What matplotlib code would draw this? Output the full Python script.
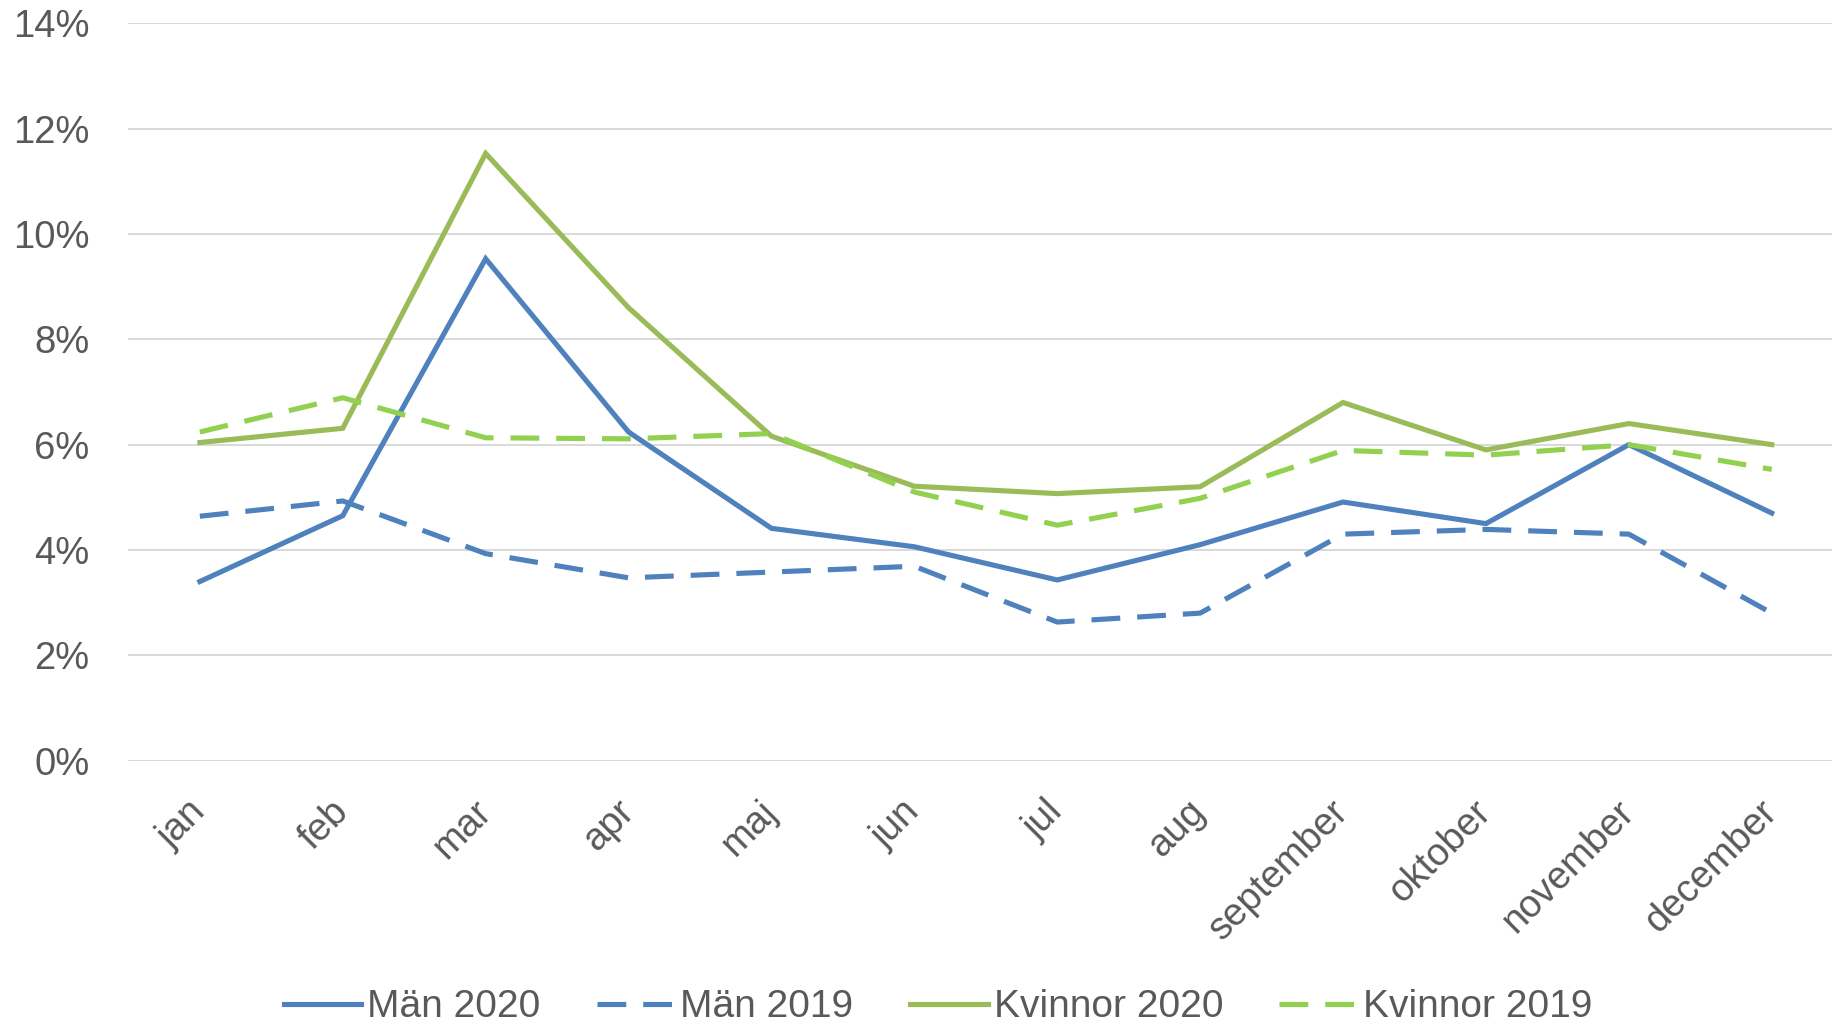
import matplotlib
matplotlib.use("Agg")
import matplotlib.pyplot as plt
from matplotlib.ticker import FuncFormatter

months = ["jan", "feb", "mar", "apr", "maj", "jun", "jul", "aug",
          "september", "oktober", "november", "december"]
man_2020 = [3.4, 4.65, 9.53, 6.24, 4.41, 4.06, 3.43, 4.1, 4.91, 4.5, 6.0, 4.7]
man_2019 = [4.64, 4.93, 3.93, 3.47, 3.58, 3.69, 2.63, 2.8, 4.3, 4.39, 4.3, 2.8]
kvinnor_2020 = [6.04, 6.31, 11.53, 8.6, 6.16, 5.21, 5.07, 5.2, 6.8, 5.9, 6.4, 6.0]
kvinnor_2019 = [6.24, 6.89, 6.13, 6.11, 6.21, 5.1, 4.47, 4.98, 5.89, 5.8, 6.0, 5.53]
y_ticks = [0, 2, 4, 6, 8, 10, 12, 14]

TXT = "#595959"
BLUE = "#4F81BD"
GREEN = "#9BBB59"
LGREEN = "#92D050"

plt.rcParams["font.family"] = ["Liberation Sans", "DejaVu Sans"]

fig = plt.figure(figsize=(18.32, 10.30), dpi=100)
ax = fig.add_axes([0.0701, 0.2616, 0.936, 0.7157])

x = list(range(len(months)))
lw = 3.7
dash = (5.6, 3.3)
ax.plot(x, man_2020, color=BLUE, lw=lw, label="Män 2020", solid_joinstyle="miter")
ax.plot(x, man_2019, color=BLUE, lw=lw, label="Män 2019", dashes=dash)
ax.plot(x, kvinnor_2020, color=GREEN, lw=lw, label="Kvinnor 2020", solid_joinstyle="miter")
ax.plot(x, kvinnor_2019, color=LGREEN, lw=lw, label="Kvinnor 2019", dashes=dash)

ax.set_xlim(-0.5, len(months) - 0.5)
ax.set_ylim(0, 14)
ax.set_yticks(y_ticks)
ax.yaxis.set_major_formatter(FuncFormatter(lambda v, p: f"{int(v)}%"))
ax.grid(axis="y", color="#D9D9D9", lw=1.4)
ax.set_axisbelow(True)
for s in ax.spines.values():
    s.set_visible(False)

ax.set_xticks(x)
ax.set_xticklabels(months, rotation=45, ha="right", rotation_mode="anchor",
                   va="center")
ax.tick_params(axis="x", length=0, pad=33, labelsize=27.5, labelcolor=TXT)
ax.tick_params(axis="y", length=0, pad=28, labelsize=27.5, labelcolor=TXT)

leg = fig.legend(loc="center", bbox_to_anchor=(0.512, 0.022), ncol=4, frameon=False,
                 handlelength=2.0, handletextpad=0.15,
                 columnspacing=1.45, labelcolor=TXT,
                 prop={"family": ["Liberation Sans", "DejaVu Sans"], "size": 28})

fig.savefig("out.png", dpi=100, facecolor="white")
